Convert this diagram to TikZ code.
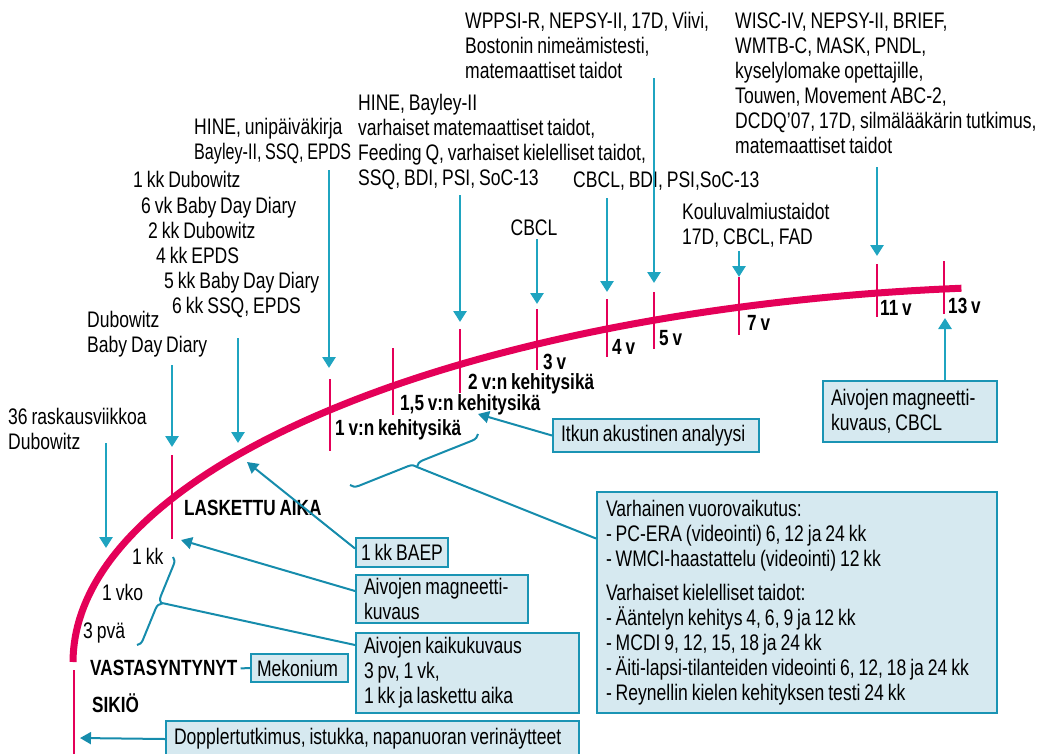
\documentclass[tikz,border=0pt]{standalone}
\usepackage{fontspec}
\setmainfont{Liberation Sans}[FakeStretch=0.78,WordSpace=0.8]
\usetikzlibrary{arrows.meta,decorations.pathreplacing,calc}
\definecolor{pinkc}{RGB}{228,0,88}
\definecolor{arrc}{RGB}{31,164,192}
\definecolor{boxd}{RGB}{26,148,180}
\definecolor{boxf}{RGB}{214,233,240}
\definecolor{connc}{RGB}{22,140,172}
\newcommand\fs{\fontsize{22.5}{25}\selectfont}
\newcommand\fsb{\fontsize{22}{25}\selectfont\bfseries}
\begin{document}
\begin{tikzpicture}[x=1pt,y={(0pt,-1pt)},
  lb/.style={font=\fs, inner sep=0pt, align=flush left, anchor=north west},
  tl/.style={font=\fsb, inner sep=0pt, anchor=base west},
  tickline/.style={draw=pinkc, line width=2.6pt},
  arr/.style={draw=arrc, line width=2.7pt, -{Triangle[width=13pt,length=11pt]}, color=arrc},
  conn/.style={draw=connc, line width=2pt},
  conna/.style={conn, -{Triangle[width=12pt,length=11pt]}, color=connc},
  box/.style={draw=boxd, fill=boxf, line width=2pt, font=\fs, align=flush left, anchor=north west, inner xsep=8pt, inner ysep=0pt},
  br/.style={conn, decorate, decoration={brace, amplitude=#1}}
]
\useasboundingbox (0,0) rectangle (1044,753);

% main curve
\draw[pinkc, line width=7pt] plot[domain=180:96.2, samples=90, variable=\t] ({1069+996*cos(\t)}, {662-376*sin(\t)});
\draw[tickline] (74,670) -- (74,760);

% ticks
\draw[tickline] (172,455) -- (172,539);
\draw[tickline] (330,379) -- (330,451);
\draw[tickline] (393,348) -- (393,415);
\draw[tickline] (460,329) -- (460,393);
\draw[tickline] (537,309) -- (537,370);
\draw[tickline] (607,299) -- (607,357);
\draw[tickline] (654,292) -- (654,349);
\draw[tickline] (739,277) -- (739,335);
\draw[tickline] (877,264) -- (877,317);
\draw[tickline] (944,261) -- (944,314);

% top texts
\node[lb] (wppsi) at (465,10.5) {\strut WPPSI-R, NEPSY-II, 17D, Viivi,\\Bostonin nimeämistesti,\\matemaattiset taidot};
\node[lb] (wisc) at (735,10.5) {\strut WISC-IV, NEPSY-II, BRIEF,\\WMTB-C, MASK, PNDL,\\kyselylomake opettajille,\\Touwen, Movement ABC-2,\\DCDQ’07, 17D, silmälääkärin tutkimus,\\matemaattiset taidot};
\node[lb] (hineb) at (358,92.5) {\strut HINE, Bayley-II\\varhaiset matemaattiset taidot,\\Feeding Q, varhaiset kielelliset taidot,\\SSQ, BDI, PSI, SoC-13};
\node[lb] (hineu) at (194,116.5) {\strut HINE, unipäiväkirja\\\scalebox{0.92}[1]{Bayley-II, SSQ, EPDS}};
\node[lb] (cbclb) at (573,169.5) {\strut CBCL, BDI, PSI,SoC-13};
\node[lb] (l1) at (133,169.5) {\strut 1 kk Dubowitz};
\node[lb] (l2) at (141,195.5) {\strut 6 vk Baby Day Diary};
\node[lb] (l3) at (148,220.5) {\strut 2 kk Dubowitz};
\node[lb] (l4) at (156,245.5) {\strut 4 kk EPDS};
\node[lb] (l5) at (164,270.5) {\strut 5 kk Baby Day Diary};
\node[lb] (l6) at (172,295.5) {\strut 6 kk SSQ, EPDS};
\node[lb] (dub) at (87,309.5) {\strut Dubowitz\\Baby Day Diary};
\node[lb] (rask) at (8,406.5) {\strut 36 raskausviikkoa\\Dubowitz};
\node[font=\fs, inner sep=0pt, anchor=north] (cbcl) at (534,217.5) {\strut CBCL};
\node[lb] (koulu) at (682,201.5) {\strut Kouluvalmiustaidot\\17D, CBCL, FAD};
\node[lb] (kk1) at (132,546.5) {\strut 1 kk};
\node[lb] (vko1) at (102,582.5) {\strut 1 vko};
\node[lb] (pva3) at (83,620.5) {\strut 3 pvä};

% bold labels
\node[tl] (lask) at (184,515) {LASKETTU AIKA};
\node[tl] (v1) at (335,435) {1 v:n kehitysikä};
\node[tl] (v15) at (400,410) {1,5 v:n kehitysikä};
\node[tl] (v2) at (468,389) {2 v:n kehitysikä};
\node[tl] (v3) at (543,369) {3 v};
\node[tl] (v4) at (612,354) {4 v};
\node[tl] (v5) at (659,345) {5 v};
\node[tl] (v7) at (747,330) {7 v};
\node[tl] (v11) at (880,315) {11 v};
\node[tl] (v13) at (948,313) {13 v};
\node[tl] (vast) at (90,675) {VASTASYNTYNYT};
\node[tl] (siki) at (92,712) {SIKIÖ};

% boxes
\node[box, text width=190pt, minimum height=33pt] (itkun) at (552,418) {Itkun akustinen analyysi};
\node[box, text width=158pt, minimum height=61pt] (mrcbcl) at (822,380) {Aivojen magneetti-\\kuvaus, CBCL};
\node[box, inner xsep=5pt, text width=82pt, minimum height=29pt] (baep) at (355,537) {\mbox{1 kk BAEP}};
\node[box, text width=156pt, minimum height=48pt] (magn) at (355,574) {Aivojen magneetti-\\kuvaus};
\node[box, text width=207pt, minimum height=80pt] (kaiku) at (355,632) {Aivojen kaikukuvaus\\3 pv, 1 vk,\\1 kk ja laskettu aika};
\node[box, inner xsep=6pt, text width=85pt, minimum height=28pt] (mekon) at (250,653) {Mekonium};
\node[box, text width=397pt, minimum height=36pt] (doppler) at (165,720) {Dopplertutkimus, istukka, napanuoran verinäytteet};
\node[box, text width=382pt, inner xsep=9pt, minimum height=221pt] (varh) at (596,491) {Varhainen vuorovaikutus:\\- PC-ERA (videointi) 6, 12 ja 24 kk\\- WMCI-haastattelu (videointi) 12 kk\\[9pt]Varhaiset kielelliset taidot:\\- Ääntelyn kehitys 4, 6, 9 ja 12 kk\\- MCDI 9, 12, 15, 18 ja 24 kk\\- Äiti-lapsi-tilanteiden videointi 6, 12, 18 ja 24 kk\\- Reynellin kielen kehityksen testi 24 kk};

% arrow coordinates
\coordinate (s1) at (106,443); \coordinate (e1) at (106,548);
\coordinate (s2) at (172,365); \coordinate (e2) at (172,447);
\coordinate (s3) at (238,338); \coordinate (e3) at (238,443);
\coordinate (s4) at (329,170); \coordinate (e4) at (329,368);
\coordinate (s5) at (460,195); \coordinate (e5) at (460,322);
\coordinate (s6) at (537,239); \coordinate (e6) at (537,304);
\coordinate (s7) at (607,198); \coordinate (e7) at (607,292);
\coordinate (s8) at (654,78);  \coordinate (e8) at (654,283);
\coordinate (s9) at (739,251); \coordinate (e9) at (739,277);
\coordinate (s10) at (877,167); \coordinate (e10) at (877,256);
\coordinate (e11) at (945,318);
\foreach \i in {1,...,10} {\draw[arr] (s\i) -- (e\i);}
\draw[arr] (mrcbcl.north -| e11) -- (e11);

% braces
\coordinate (b1a) at (173,557); \coordinate (b1b) at (137,645); \coordinate (b1t) at (162,603);
\coordinate (b2a) at (478,434); \coordinate (b2b) at (350,485); \coordinate (b2t) at (417,467);
\draw[br=7pt] (b1a) -- (b1b);
\draw[br=8pt] (b2a) -- (b2b);

% connectors from boxes
\coordinate (c1) at (478,414);
\coordinate (c2) at (247,462);
\coordinate (c3) at (181,540);
\coordinate (c4) at (80,738);
\draw[conna] (itkun.west) -- (c1);
\draw[conna] ([yshift=4pt]baep.west) -- (c2);
\draw[conna] ([yshift=8pt]magn.west) -- (c3);
\draw[conn] ([yshift=28pt]kaiku.west) -- (b1t);
\draw[conn] ([yshift=64pt]varh.west) -- (b2t);
\draw[conna] (doppler.west) -- (c4);
\draw[conn] ([xshift=3pt,yshift=-1pt]vast.east) -- (mekon.west);
\end{tikzpicture}
\end{document}
